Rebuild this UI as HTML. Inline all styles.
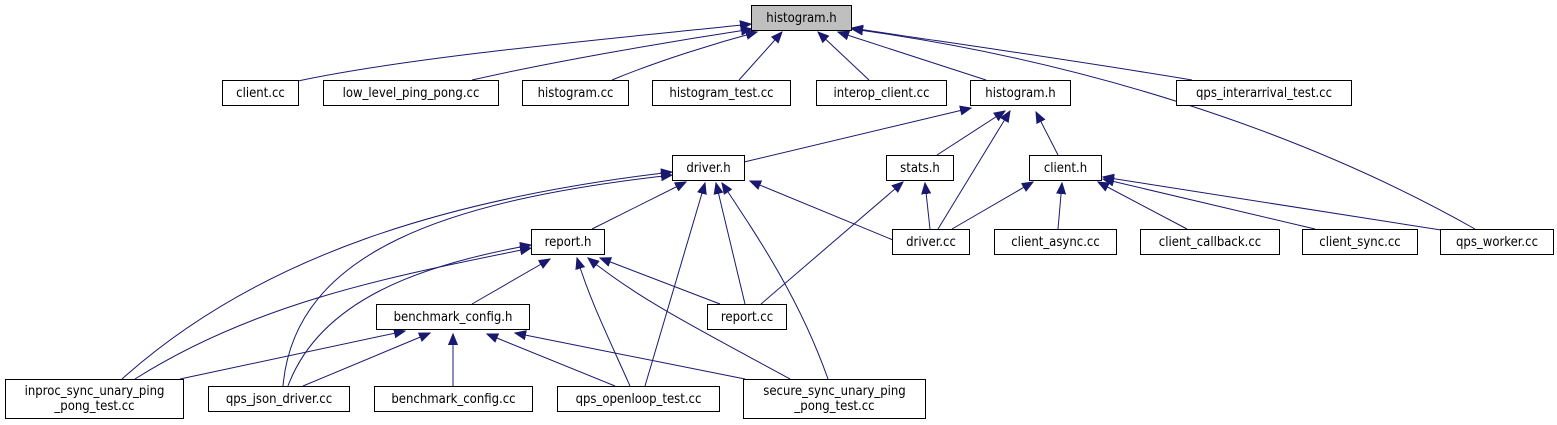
<!DOCTYPE html>
<html><head><meta charset="utf-8"><style>
html,body{margin:0;padding:0;background:#fff}
svg{display:block}
text{font-family:"DejaVu Sans Condensed","Liberation Sans",sans-serif;font-size:13px;fill:#000}
rect{fill:#fff;stroke:#000;stroke-width:1}
path{fill:none;stroke:#191970;stroke-width:1}
</style></head><body>
<svg width="1557" height="425" viewBox="0 0 1557 425" xmlns="http://www.w3.org/2000/svg">
<defs>
<marker id="a" markerUnits="userSpaceOnUse" markerWidth="12" markerHeight="10" refX="11" refY="4.5" orient="auto" viewBox="0 0 12 9">
<path d="M0,0 L11,4.5 L0,9 Z" style="fill:#191970;stroke:#191970"/>
</marker>
</defs>
<g marker-end="url(#a)">
<path d="M298,81 C420,55 640,36 751,24"/>
<path d="M472,80 C560,60 680,40 752,29"/>
<path d="M612,80 C660,60 720,42 757,32"/>
<path d="M739,80 L782,32"/>
<path d="M869,80 L818,32"/>
<path d="M986,80 L838,32"/>
<path d="M1192,80 C1060,58 930,40 852,28"/>
<path d="M1475,229 C1300,130 1080,60 852,29"/>
<path d="M744,162 L971,108"/>
<path d="M937,155 L1005,111"/>
<path d="M938,229 L1010,111"/>
<path d="M1058,155 L1036,112"/>
<path d="M122,379 C260,255 450,198 672,172"/>
<path d="M283,386 C295,250 450,200 672,175"/>
<path d="M592,229 L686,182"/>
<path d="M645,386 L705,183"/>
<path d="M745,304 L716,183"/>
<path d="M828,379 C800,300 760,240 722,183"/>
<path d="M893,240 L750,181"/>
<path d="M930,229 L925,183"/>
<path d="M761,304 L903,182"/>
<path d="M952,229 L1033,182"/>
<path d="M1058,229 L1062,183"/>
<path d="M1187,229 L1098,182"/>
<path d="M1315,229 L1103,179"/>
<path d="M1441,230 L1103,177"/>
<path d="M135,379 C260,300 400,275 531,248"/>
<path d="M288,386 C320,300 420,265 531,245"/>
<path d="M472,304 L550,259"/>
<path d="M630,386 C605,330 590,300 577,258"/>
<path d="M790,379 C700,330 640,300 588,258"/>
<path d="M720,304 L600,258"/>
<path d="M180,379 L405,331"/>
<path d="M303,386 L430,333"/>
<path d="M453,386 L453,334"/>
<path d="M615,386 L487,334"/>
<path d="M745,379 L515,333"/>
</g>
<rect x="751.5" y="5.5" width="100" height="25" style="fill:#bfbfbf"/><text x="801.5" y="22" text-anchor="middle">histogram.h</text>
<rect x="222.5" y="80.5" width="76" height="25"/><text x="260.5" y="97" text-anchor="middle">client.cc</text>
<rect x="323.5" y="80.5" width="175" height="25"/><text x="411" y="97" text-anchor="middle">low_level_ping_pong.cc</text>
<rect x="522.5" y="80.5" width="106" height="25"/><text x="575.5" y="97" text-anchor="middle">histogram.cc</text>
<rect x="652.5" y="80.5" width="138" height="25"/><text x="721.5" y="97" text-anchor="middle">histogram_test.cc</text>
<rect x="816.5" y="80.5" width="130" height="25"/><text x="881.5" y="97" text-anchor="middle">interop_client.cc</text>
<rect x="970.5" y="80.5" width="100" height="25"/><text x="1020.5" y="97" text-anchor="middle">histogram.h</text>
<rect x="1176.5" y="80.5" width="175" height="25"/><text x="1264" y="97" text-anchor="middle">qps_interarrival_test.cc</text>
<rect x="672.5" y="155.5" width="72" height="25"/><text x="708.5" y="172" text-anchor="middle">driver.h</text>
<rect x="886.5" y="155.5" width="67" height="25"/><text x="920" y="172" text-anchor="middle">stats.h</text>
<rect x="1029.5" y="155.5" width="72" height="25"/><text x="1065.5" y="172" text-anchor="middle">client.h</text>
<rect x="531.5" y="229.5" width="73" height="25"/><text x="568" y="246" text-anchor="middle">report.h</text>
<rect x="892.5" y="229.5" width="77" height="25"/><text x="931" y="246" text-anchor="middle">driver.cc</text>
<rect x="994.5" y="229.5" width="122" height="25"/><text x="1055.5" y="246" text-anchor="middle">client_async.cc</text>
<rect x="1140.5" y="229.5" width="139" height="25"/><text x="1210" y="246" text-anchor="middle">client_callback.cc</text>
<rect x="1302.5" y="229.5" width="115" height="25"/><text x="1360" y="246" text-anchor="middle">client_sync.cc</text>
<rect x="1440.5" y="229.5" width="113" height="25"/><text x="1497" y="246" text-anchor="middle">qps_worker.cc</text>
<rect x="376.5" y="304.5" width="153" height="25"/><text x="453" y="321" text-anchor="middle">benchmark_config.h</text>
<rect x="707.5" y="304.5" width="79" height="25"/><text x="747" y="321" text-anchor="middle">report.cc</text>
<rect x="5.5" y="379.5" width="178" height="39"/><text x="94.5" y="395" text-anchor="middle">inproc_sync_unary_ping</text><text x="94.5" y="410" text-anchor="middle">_pong_test.cc</text>
<rect x="208.5" y="386.5" width="141" height="25"/><text x="279" y="403" text-anchor="middle">qps_json_driver.cc</text>
<rect x="374.5" y="386.5" width="158" height="25"/><text x="453.5" y="403" text-anchor="middle">benchmark_config.cc</text>
<rect x="557.5" y="386.5" width="162" height="25"/><text x="638.5" y="403" text-anchor="middle">qps_openloop_test.cc</text>
<rect x="743.5" y="379.5" width="182" height="39"/><text x="834.5" y="395" text-anchor="middle">secure_sync_unary_ping</text><text x="834.5" y="410" text-anchor="middle">_pong_test.cc</text>
</svg>
</body></html>
